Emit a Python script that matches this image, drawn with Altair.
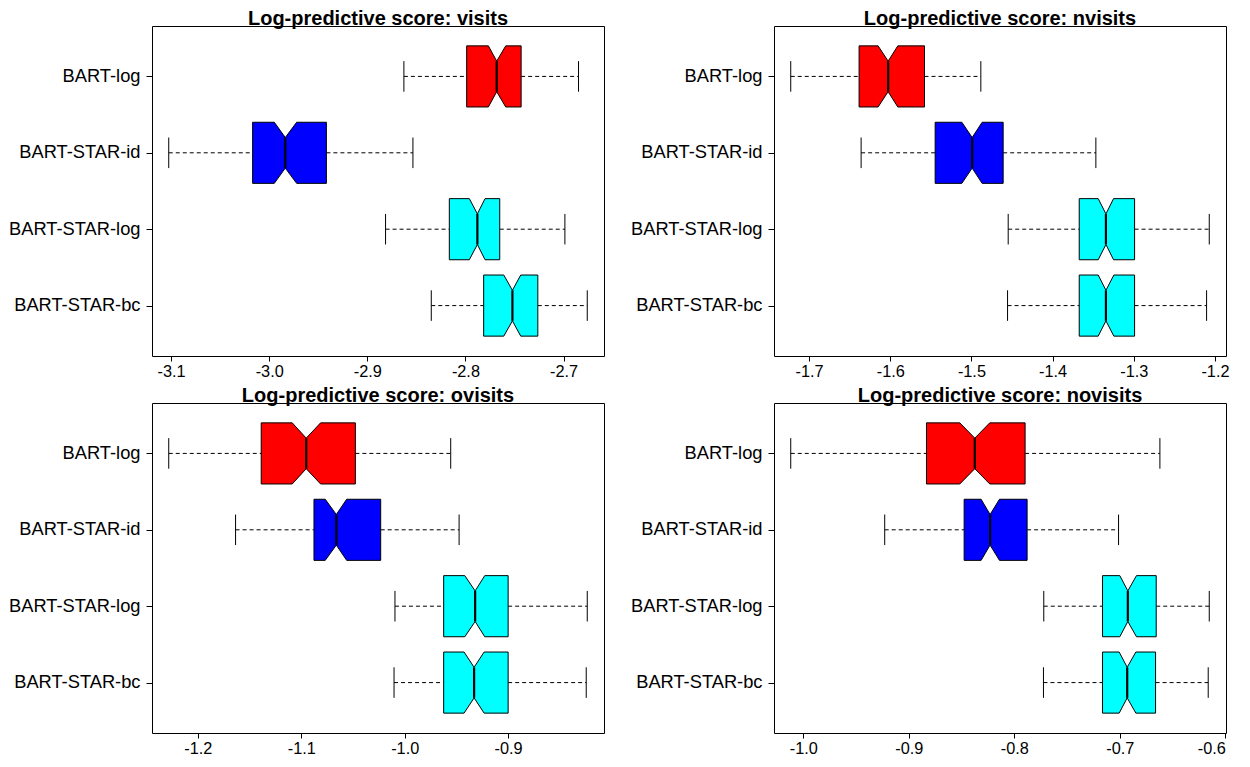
import altair as alt
import pandas as pd

groups = ["BART-log", "BART-STAR-id", "BART-STAR-log", "BART-STAR-bc"]
colors = ["#FF0000", "#0000FF", "#00FFFF", "#00FFFF"]
positions = [4, 3, 2, 1]

titles = [
    "Log-predictive score: visits",
    "Log-predictive score: nvisits",
    "Log-predictive score: ovisits",
    "Log-predictive score: novisits",
]

# visits
visits_lo = [-2.8627, -3.1024, -2.8814, -2.8348]
visits_q1 = [-2.7987, -3.0169, -2.8164, -2.7814]
visits_cl = [-2.7766, -2.9948, -2.7960, -2.7609]
visits_med = [-2.7681, -2.9836, -2.7878, -2.7521]
visits_ch = [-2.7589, -2.9720, -2.7800, -2.7436]
visits_q3 = [-2.7432, -2.9417, -2.7650, -2.7262]
visits_hi = [-2.6847, -2.8535, -2.6986, -2.6758]
visits_ticks = [-3.1, -3.0, -2.9, -2.8, -2.7]

# nvisits
nvisits_lo = [-1.7226, -1.6359, -1.4547, -1.4555]
nvisits_q1 = [-1.6384, -1.5447, -1.3672, -1.3672]
nvisits_cl = [-1.6150, -1.5118, -1.3438, -1.3438]
nvisits_med = [-1.6026, -1.4991, -1.3343, -1.3343]
nvisits_ch = [-1.5907, -1.4868, -1.3249, -1.3245]
nvisits_q3 = [-1.5578, -1.4609, -1.2990, -1.2990]
nvisits_hi = [-1.4884, -1.3467, -1.2070, -1.2103]
nvisits_ticks = [-1.7, -1.6, -1.5, -1.4, -1.3, -1.2]

# ovisits
ovisits_lo = [-1.2281, -1.1635, -1.0094, -1.0103]
ovisits_q1 = [-1.1387, -1.0877, -0.9623, -0.9623]
ovisits_cl = [-1.1087, -1.0768, -0.9419, -0.9426]
ovisits_med = [-1.0952, -1.0661, -0.9319, -0.9329]
ovisits_ch = [-1.0813, -1.0561, -0.9226, -0.9232]
ovisits_q3 = [-1.0477, -1.0232, -0.9000, -0.9000]
ovisits_hi = [-0.9555, -0.9474, -0.8235, -0.8245]
ovisits_ticks = [-1.2, -1.1, -1.0, -0.9]

# novisits
novisits_lo = [-1.0120, -0.9229, -0.7721, -0.7724]
novisits_q1 = [-0.8833, -0.8476, -0.7164, -0.7164]
novisits_cl = [-0.8517, -0.8315, -0.7000, -0.7006]
novisits_med = [-0.8375, -0.8230, -0.6924, -0.6930]
novisits_ch = [-0.8233, -0.8141, -0.6842, -0.6848]
novisits_q3 = [-0.7898, -0.7879, -0.6655, -0.6661]
novisits_hi = [-0.6620, -0.7012, -0.6152, -0.6162]
novisits_ticks = [-1.0, -0.9, -0.8, -0.7, -0.6]

FONT = "Liberation Sans"
HALF = 0.4      # half box height (boxwex 0.8)
NOTCH = 0.5     # notch fraction
STAPLE = 0.2    # half staple height
W, H = 452, 330

ydom = [min(positions) - 0.5 - 0.04 * len(positions), max(positions) + 0.5 + 0.04 * len(positions)]
label_expr = " : ".join(
    f"datum.value == {p} ? '{g}'" for g, p in zip(groups, positions)
) + " : ''"


def panel(title, lo, q1, cl, med, ch, q3, hi, ticks):
    span = max(hi) - min(lo)
    xdom = [min(lo) - 0.04 * span, max(hi) + 0.04 * span]
    xscale = alt.Scale(domain=xdom, nice=False, zero=False)
    yscale = alt.Scale(domain=ydom, nice=False, zero=False)
    xaxis = alt.Axis(values=ticks, labelExpr="replace(format(datum.value, '.1f'), '\u2212', '-')",
                     domain=False, grid=False, tickSize=5, tickColor="black",
                     labelFontSize=16.3, labelFont=FONT, labelColor="black", labelPadding=2,
                     title=None)
    yaxis = alt.Axis(values=positions, labelExpr=label_expr, domain=False, grid=False,
                     tickSize=6, tickColor="black", labelFontSize=18.3, labelFont=FONT,
                     labelColor="black", labelPadding=6, title=None)

    box_rows = []
    for g, p, a, b, c, d, e in zip(groups, positions, q1, cl, med, ch, q3):
        for v, h in zip([a, b, c, d, e], [HALF, HALF, HALF * NOTCH, HALF, HALF]):
            box_rows.append({"group": g, "x": v, "top": p + h, "bot": p - h})
    box_df = pd.DataFrame(box_rows)

    whisk_rows = []
    staple_rows = []
    stat_rows = []
    for g, p, l, a, m, e, u in zip(groups, positions, lo, q1, med, q3, hi):
        whisk_rows.append({"group": g, "y": p, "x1": l, "x2": a})
        whisk_rows.append({"group": g, "y": p, "x1": e, "x2": u})
        staple_rows.append({"group": g, "x": l, "y1": p - STAPLE, "y2": p + STAPLE})
        staple_rows.append({"group": g, "x": u, "y1": p - STAPLE, "y2": p + STAPLE})
        stat_rows.append({"group": g, "x": m, "y1": p - HALF * NOTCH, "y2": p + HALF * NOTCH})
    whisk_df = pd.DataFrame(whisk_rows)
    staple_df = pd.DataFrame(staple_rows)
    med_df = pd.DataFrame(stat_rows)

    whisk = alt.Chart(whisk_df).mark_rule(color="black", strokeWidth=1, strokeDash=[4, 3]).encode(
        x=alt.X("x1:Q", scale=xscale, axis=xaxis),
        x2="x2:Q",
        y=alt.Y("y:Q", scale=yscale, axis=yaxis),
    )
    staples = alt.Chart(staple_df).mark_rule(color="black", strokeWidth=1).encode(
        x=alt.X("x:Q", scale=xscale, axis=xaxis),
        y=alt.Y("y1:Q", scale=yscale, axis=yaxis),
        y2="y2:Q",
    )
    boxes = alt.Chart(box_df).mark_area(orient="vertical", stroke="black", strokeWidth=1,
                                        opacity=1, fillOpacity=1).encode(
        x=alt.X("x:Q", scale=xscale, axis=xaxis),
        y=alt.Y("top:Q", scale=yscale, axis=yaxis),
        y2="bot:Q",
        color=alt.Color("group:N", scale=alt.Scale(domain=groups, range=colors), legend=None),
        detail="group:N",
    )
    meds = alt.Chart(med_df).mark_rule(color="black", strokeWidth=2.2).encode(
        x=alt.X("x:Q", scale=xscale, axis=xaxis),
        y=alt.Y("y1:Q", scale=yscale, axis=yaxis),
        y2="y2:Q",
    )
    return alt.layer(whisk, staples, boxes, meds).properties(
        width=W, height=H,
        title=alt.TitleParams(title, fontSize=20, fontWeight="bold", font=FONT,
                              color="black", anchor="middle", offset=-3),
    )


p1 = panel(titles[0], visits_lo, visits_q1, visits_cl, visits_med, visits_ch, visits_q3, visits_hi, visits_ticks)
p2 = panel(titles[1], nvisits_lo, nvisits_q1, nvisits_cl, nvisits_med, nvisits_ch, nvisits_q3, nvisits_hi, nvisits_ticks)
p3 = panel(titles[2], ovisits_lo, ovisits_q1, ovisits_cl, ovisits_med, ovisits_ch, ovisits_q3, ovisits_hi, ovisits_ticks)
p4 = panel(titles[3], novisits_lo, novisits_q1, novisits_cl, novisits_med, novisits_ch, novisits_q3, novisits_hi, novisits_ticks)

chart = alt.vconcat(
    alt.hconcat(p1, p2, spacing=25),
    alt.hconcat(p3, p4, spacing=25),
    spacing=5,
).properties(padding=0).configure_view(stroke="black", strokeWidth=1)

chart.save("out.html", embed_options={"renderer": "svg", "actions": False})
